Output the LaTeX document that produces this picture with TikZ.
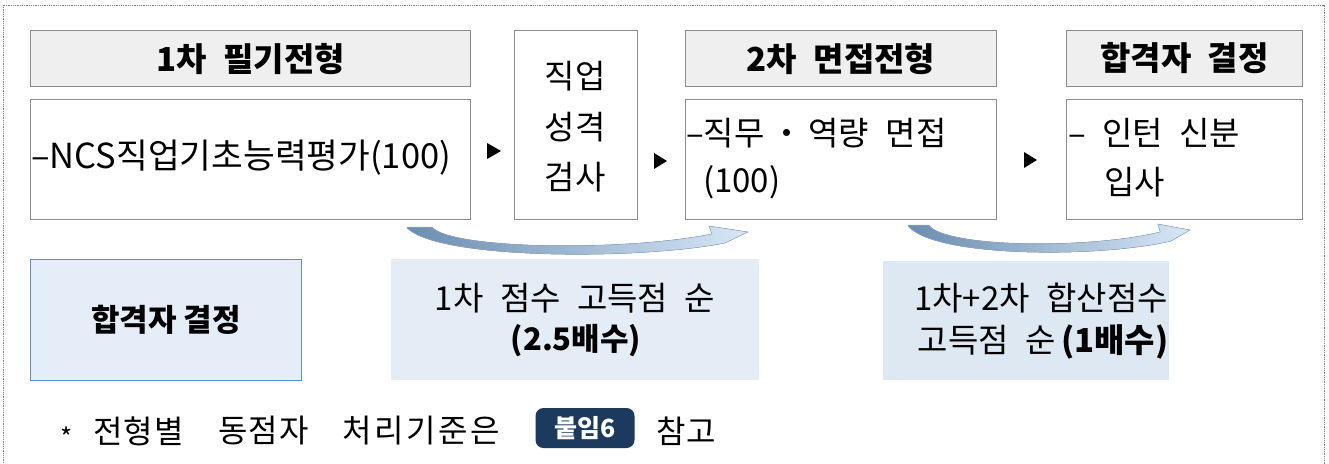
\documentclass[tikz,border=0pt]{standalone}
\usepackage{fontspec}
\setmainfont{Noto Sans CJK KR}
\usetikzlibrary{shapes.geometric}
\definecolor{boxgray}{HTML}{8C8C8C}
\definecolor{headfill}{HTML}{EFEFEF}
\definecolor{lbfill}{HTML}{E5EEF8}
\definecolor{lbdraw}{HTML}{5B8FD0}
\definecolor{mbfill}{HTML}{E4ECF6}
\definecolor{rbfill}{HTML}{DEE8F2}
\definecolor{navy}{HTML}{1C3A5E}
\definecolor{arcL}{HTML}{6A8DB0}
\definecolor{arcM}{HTML}{A9C3DC}
\definecolor{arcR}{HTML}{D8E7F6}
\newcommand{\gp}{\hspace{0.5em}}
\newcommand{\bluearc}{%
  \fill[left color=arcL, middle color=arcM, right color=arcR, draw=arcL!70, line width=0.5pt]
    (0,0) -- (25,0) .. controls (43,22) and (213,25) .. (305,7)
    -- (302,-1) -- (341,5) -- (318,16)
    .. controls (233,33) and (33,33) .. (0,1) -- cycle;}
\begin{document}
\begin{tikzpicture}[x=1pt,y=-1pt,
  frame/.style={draw=boxgray, line width=1.1pt},
  headbox/.style={frame, fill=headfill},
  bodybox/.style={frame, fill=white},
  txt/.style={inner sep=0pt, font=\fontsize{33}{40}\selectfont},
  htxt/.style={inner sep=0pt, font=\fontsize{33}{40}\selectfont\bfseries},
  tri/.style={fill=black}]
\useasboundingbox (0,0) rectangle (1329,463);
\fill[white] (0,0) rectangle (1329,463);
\draw[densely dotted, gray, line width=0.8pt] (3,5) rectangle (1324,475);

% top row boxes
\node[headbox, minimum width=440pt, minimum height=56pt, anchor=north west] (h1) at (30,30) {};
\node[bodybox, minimum width=440pt, minimum height=120pt, anchor=north west] (b1) at (30,99) {};
\node[bodybox, minimum width=123pt, minimum height=189pt, anchor=north west] (jb) at (514,30) {};
\node[headbox, minimum width=311pt, minimum height=56pt, anchor=north west] (h2) at (685,30) {};
\node[bodybox, minimum width=311pt, minimum height=120pt, anchor=north west] (b2) at (685,99) {};
\node[headbox, minimum width=236pt, minimum height=56pt, anchor=north west] (h3) at (1066,30) {};
\node[bodybox, minimum width=236pt, minimum height=120pt, anchor=north west] (b3) at (1066,99) {};

\node[htxt] (h1t) at (h1.center) {1차\gp 필기전형};
\node[htxt] (h2t) at (h2.center) {2차\gp 면접전형};
\node[htxt] (h3t) at (h3.center) {합격자\gp 결정};

\node[txt, anchor=west, font=\fontsize{34.5}{40}\selectfont] (b1t) at (31,158) {–NCS직업기초능력평가(100)};
\node[txt] (jbt1) at (575,76) {직업};
\node[txt] (jbt2) at (575,127) {성격};
\node[txt] (jbt3) at (575,177) {검사};
\node[txt, anchor=west] (b2t1) at (686,133) {–직무\,・\,역량\gp 면접};
\node[txt, anchor=west] (b2t2) at (703,182) {(100)};
\node[txt, anchor=west] (b3t1) at (1068,133) {–\gp 인턴\gp 신분};
\node[txt, anchor=west] (b3t2) at (1104,182) {입사};

% black triangles
\fill[tri] (487,143) -- (501,151) -- (487,159) -- cycle;
\fill[tri] (654,153) -- (667,161) -- (654,169) -- cycle;
\fill[tri] (1024,152) -- (1037,160) -- (1024,168) -- cycle;

% curved arrows
\begin{scope}[shift={(407,227)}]
\bluearc
\end{scope}
\begin{scope}[shift={(908,225)}, xscale=0.827]
\bluearc
\end{scope}

% bottom boxes
\node[draw=lbdraw, fill=lbfill, line width=1pt, minimum width=271pt, minimum height=121pt, anchor=north west] (lb) at (30,259) {};
\node[htxt, font=\fontsize{31}{36}\selectfont\bfseries] (lbt) at (lb.center) {합격자 결정};

\node[fill=mbfill, minimum width=368pt, minimum height=121pt, anchor=north west, inner sep=0pt] (mb) at (391,259) {};
\node[txt] (mbt1) at (575,298) {1차\gp 점수\gp 고득점\gp 순};
\node[htxt, font=\fontsize{31}{36}\selectfont\bfseries] (mbt2) at (576,341) {(2.5배수)};

\node[fill=rbfill, minimum width=286pt, minimum height=119pt, anchor=north west, inner sep=0pt] (rb) at (883,261) {};
\node[txt] (rbt1) at (1041,298) {1차+2차\gp 합산점수};
\node[txt] (rbt2) at (1043,342) {고득점\gp 순\,\textbf{(1배수)}};

% footnote
\node[inner sep=0pt, font=\fontsize{26}{30}\selectfont] (fn0) at (67,437) {*};
\node[txt, anchor=west, font=\fontsize{32}{38}\selectfont\addfontfeature{LetterSpace=3}] (fn1) at (93,431) {전형별};
\node[txt, anchor=west, font=\fontsize{32}{38}\selectfont\addfontfeature{LetterSpace=3}] (fn2) at (218,431) {동점자};
\node[txt, anchor=west, font=\fontsize{32}{38}\selectfont\addfontfeature{LetterSpace=8}] (fn3) at (342,431) {처리기준은};
\node[fill=navy, rounded corners=8pt, minimum width=99pt, minimum height=40pt, inner sep=0pt, text=white, font=\fontsize{25}{28}\selectfont\bfseries] (badge) at (585,428) {붙임6};
\node[txt, anchor=west, font=\fontsize{32}{38}\selectfont\addfontfeature{LetterSpace=3}] (ref) at (656,431) {참고};
\end{tikzpicture}
\end{document}
